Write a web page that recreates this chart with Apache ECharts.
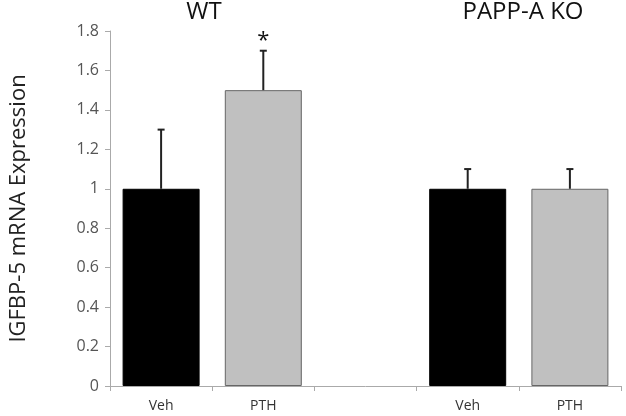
<!DOCTYPE html>
<html><head><meta charset="utf-8">
<script src="https://cdn.jsdelivr.net/npm/echarts@6/dist/echarts.min.js"></script>
<style>html,body{margin:0;padding:0;background:#fff}#c{width:626px;height:416px}</style>
</head><body><div id="c"></div>
<script>
var categories = ['Veh', 'PTH', '', 'Veh', 'PTH'];
var values = [1.0, 1.5, null, 1.0, 1.0];
var errors = [0.3, 0.2, null, 0.1, 0.1];
var marks = ['', '*', '', '', ''];
var barColors = ['#000000', '#c0c0c0', '#000000', '#000000', '#c0c0c0'];
var groupLabels = ['WT', 'PAPP-A KO'];
var yTicks = [0, 0.2, 0.4, 0.6, 0.8, 1, 1.2, 1.4, 1.6, 1.8];

var font = 'Open Sans';
var chart = echarts.init(document.getElementById('c'));
chart.setOption({
  animation: false,
  grid: {left: 110, right: 5, top: 31, bottom: 30, outerBoundsMode: 'none', containLabel: false},
  title: [
    {text: groupLabels[0], left: 204, top: 0, padding: 0, textAlign: 'center', textStyle: {fontFamily: font, fontSize: 24, fontWeight: 'normal', color: '#111'}},
    {text: groupLabels[1], left: 523, top: 0, padding: 0, textAlign: 'center', textStyle: {fontFamily: font, fontSize: 24, fontWeight: 'normal', color: '#111'}}
  ],
  xAxis: {
    type: 'category', data: categories,
    axisLine: {lineStyle: {color: '#aaa'}},
    axisTick: {show: true, length: 5, lineStyle: {color: '#aaa'}},
    axisLabel: {fontFamily: font, fontSize: 14, color: '#333', margin: 13}
  },
  yAxis: {
    type: 'value', min: 0, max: yTicks[yTicks.length - 1], interval: 0.2,
    name: 'IGFBP-5 mRNA Expression', nameLocation: 'middle', nameGap: 80,
    nameTextStyle: {fontFamily: font, fontSize: 22, color: '#222'},
    axisLine: {show: true, lineStyle: {color: '#aaa'}},
    axisTick: {show: true, length: 5, lineStyle: {color: '#aaa'}},
    splitLine: {show: false},
    axisLabel: {fontFamily: font, fontSize: 16, color: '#555', margin: 11}
  },
  series: [
    {
      type: 'bar', barWidth: 77,
      data: values.map(function (v, i) {
        return {value: v == null ? '-' : v, itemStyle: {color: barColors[i], borderColor: i === 1 || i === 4 ? '#666' : '#000', borderWidth: 1}};
      })
    },
    {
      type: 'custom',
      data: values.map(function (v, i) { return [i, v, errors[i]]; }).filter(function (d) { return d[1] != null; }),
      renderItem: function (params, api) {
        var x = api.value(0), v = api.value(1), e = api.value(2);
        var p0 = api.coord([x, v]);
        var p1 = api.coord([x, v + e]);
        var cap = 3.5;
        var children = [
          {type: 'line', shape: {x1: p0[0], y1: p0[1], x2: p1[0], y2: p1[1]}, style: {stroke: '#222', lineWidth: 2}},
          {type: 'line', shape: {x1: p1[0] - cap, y1: p1[1], x2: p1[0] + cap, y2: p1[1]}, style: {stroke: '#222', lineWidth: 2}}
        ];
        var m = marks[x];
        if (m) {
          children.push({type: 'text', style: {text: m, x: p1[0], y: p1[1] - 10, align: 'center', verticalAlign: 'middle', fontSize: 22, fontFamily: font, fill: '#111'}});
        }
        return {type: 'group', children: children};
      },
      z: 5
    }
  ]
});
</script></body></html>
